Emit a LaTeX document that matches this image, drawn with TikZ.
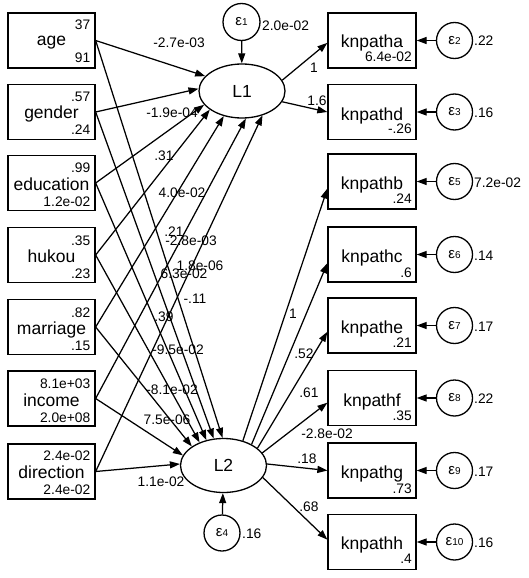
\documentclass[tikz,border=0pt]{standalone}
\usepackage{fontspec}
\setmainfont{Liberation Sans}
\usetikzlibrary{arrows.meta,calc,shapes.geometric}
\newcommand{\epsl}[1]{{\fontsize{15}{15}\selectfont ε}{\fontsize{10}{10}\selectfont #1}}
\begin{document}
\begin{tikzpicture}[x=1pt,y=-1pt,
  box/.style={draw, line width=1.3pt, minimum width=87pt, minimum height=55pt, inner sep=0pt},
  rbox/.style={draw, line width=1.3pt, minimum width=88pt, minimum height=55pt, inner sep=0pt},
  lat/.style={draw, ellipse, line width=1.3pt, minimum width=86pt, minimum height=54pt, inner sep=0pt, font=\fontsize{17.5}{17.5}\selectfont},
  err/.style={draw, circle, line width=1.3pt, minimum size=36pt, inner sep=0pt},
  nm/.style={anchor=base, inner sep=0pt, font=\fontsize{17.5}{17.5}\selectfont},
  num/.style={anchor=base east, inner sep=0pt, font=\fontsize{13.8}{13.8}\selectfont},
  elab/.style={anchor=base west, inner sep=0pt, font=\fontsize{13.8}{13.8}\selectfont},
  coef/.style={anchor=base, inner sep=0pt, font=\fontsize{13.8}{13.8}\selectfont},
  conn/.style={line width=1.25pt, -{Triangle[length=10pt,width=7pt]}}
]
\useasboundingbox[fill=white] (0,0) rectangle (529,578);

% left boxes
\node[box] (age) at (51.5,40.5) {};
\node[nm] (agen) at (51.5,46) {age};
\node[num] (agea) at (90.5,30) {37};
\node[num] (ageb) at (90.5,63) {91};

\node[box] (gen) at (51.5,112) {};
\node[nm] (genn) at (51.5,118) {gender};
\node[num] (gena) at (90.5,101) {.57};
\node[num] (genb) at (90.5,134) {.24};

\node[box] (edu) at (51.5,183) {};
\node[nm] (edun) at (51.5,190) {education};
\node[num] (edua) at (90.5,172) {.99};
\node[num] (edub) at (90.5,206) {1.2e-02};

\node[box] (huk) at (51.5,255) {};
\node[nm] (hukn) at (51.5,262) {hukou};
\node[num] (huka) at (90.5,245) {.35};
\node[num] (hukb) at (90.5,278) {.23};

\node[box] (mar) at (51.5,327) {};
\node[nm] (marn) at (51.5,334) {marriage};
\node[num] (mara) at (90.5,317) {.82};
\node[num] (marb) at (90.5,350) {.15};

\node[box] (inc) at (51.5,398.5) {};
\node[nm] (incn) at (51.5,406) {income};
\node[num] (inca) at (90.5,388) {8.1e+03};
\node[num] (incb) at (90.5,422) {2.0e+08};

\node[box] (dir) at (51.5,471.5) {};
\node[nm] (dirn) at (51.5,478) {direction};
\node[num] (dira) at (90.5,460) {2.4e-02};
\node[num] (dirb) at (90.5,494) {2.4e-02};

% latent variables
\node[lat] (L1) at (242,91) {L1};
\node[lat] (L2) at (223.5,465.5) {L2};
\node[err, minimum size=37pt] (e1) at (241.5,22) {\epsl{1}};
\node[elab] (e1l) at (262,31) {2.0e-02};
\node[err] (e4) at (222,533) {\epsl{4}};
\node[elab] (e4l) at (242,538) {.16};

% right boxes
\node[rbox] (ka) at (372,40.5) {};
\node[nm] (kan) at (372,48) {knpatha};
\node[num] (kab) at (412,62) {6.4e-02};
\node[rbox] (kd) at (372,112) {};
\node[nm] (kdn) at (372,120) {knpathd};
\node[num] (kdb) at (412,133) {-.26};
\node[rbox] (kb) at (372,181.5) {};
\node[nm] (kbn) at (372,189) {knpathb};
\node[num] (kbb) at (412,203) {.24};
\node[rbox] (kc) at (372,254.5) {};
\node[nm] (kcn) at (372,262) {knpathc};
\node[num] (kcb) at (412,277) {.6};
\node[rbox] (ke) at (372,325.5) {};
\node[nm] (ken) at (372,333) {knpathe};
\node[num] (keb) at (412,347) {.21};
\node[rbox] (kf) at (372,398) {};
\node[nm] (kfn) at (372,406) {knpathf};
\node[num] (kfb) at (412,420) {.35};
\node[rbox] (kg) at (372,470.5) {};
\node[nm] (kgn) at (372,478) {knpathg};
\node[num] (kgb) at (412,493) {.73};
\node[rbox] (kh) at (372,542) {};
\node[nm] (khn) at (372,549) {knpathh};
\node[num] (khb) at (412,563) {.4};

% error circles right
\node[err] (e2) at (454.5,40.5) {\epsl{2}};
\node[elab] (e2l) at (474,46) {.22};
\node[err] (e3) at (454.5,112) {\epsl{3}};
\node[elab] (e3l) at (474,117.5) {.16};
\node[err] (e5) at (454.5,181.5) {\epsl{5}};
\node[elab] (e5l) at (474,187) {7.2e-02};
\node[err] (e6) at (454.5,254.5) {\epsl{6}};
\node[elab] (e6l) at (474,260) {.14};
\node[err] (e7) at (454.5,325.5) {\epsl{7}};
\node[elab] (e7l) at (474,331) {.17};
\node[err] (e8) at (454.5,398) {\epsl{8}};
\node[elab] (e8l) at (474,403.5) {.22};
\node[err] (e9) at (454.5,470.5) {\epsl{9}};
\node[elab] (e9l) at (474,476) {.17};
\node[err] (e10) at (454.5,542) {\epsl{10}};
\node[elab] (e10l) at (474,547.5) {.16};

% connectors to L1
\draw[conn] (age.east) -- (L1.158);
\draw[conn] (gen.east) -- (L1.177);
\draw[conn] (edu.east) -- (L1.200);
\draw[conn] (huk.east) -- (L1.210);
\draw[conn] (mar.east) -- (L1.234);
\draw[conn] (inc.east) -- (L1.278);
\draw[conn] (dir.east) -- (L1.310);
% connectors to L2
\draw[conn] (age.east) -- (L2.92);
\draw[conn] (gen.east) -- (L2.110);
\draw[conn] (edu.east) -- (L2.124);
\draw[conn] (huk.east) -- (L2.136);
\draw[conn] (mar.east) -- (L2.149);
\draw[conn] (inc.east) -- (L2.166);
\draw[conn] (dir.east) -- (L2.178);
% latent to indicators
\draw[conn] (L1.15) -- (ka.183);
\draw[conn] (L1.-15) -- (kd.180);
\draw[conn] (L2.52) -- (kb.189);
\draw[conn] (L2.37) -- (kc.191);
\draw[conn] (L2.27) -- (ke.188);
\draw[conn] (L2.18) -- (kf.186);
\draw[conn] (L2.2) -- (kg.180);
\draw[conn] (L2.-17) -- (kh.177);
% errors
\draw[conn] (e1) -- (L1);
\draw[conn] (e4) -- (L2);
\draw[conn] (e2) -- (ka);
\draw[conn] (e3) -- (kd);
\draw[conn] (e5) -- (kb);
\draw[conn] (e6) -- (kc);
\draw[conn] (e7) -- (ke);
\draw[conn] (e8) -- (kf);
\draw[conn] (e9) -- (kg);
\draw[conn] (e10) -- (kh);

% coefficient labels
\node[coef] (c1) at (179,48) {-2.7e-03};
\node[coef] (c2) at (172,117) {-1.9e-04};
\node[coef] (c3) at (164,160) {.31};
\node[coef] (c4) at (182,197) {4.0e-02};
\node[coef] (c5) at (174,236) {.21};
\node[coef] (c6) at (191,245) {-2.8e-03};
\node[coef] (c7) at (200,270) {1.8e-06};
\node[coef] (c8) at (184,278) {6.3e-02};
\node[coef] (c9) at (195,303) {-.11};
\node[coef] (c10) at (164,321) {.39};
\node[coef] (c11) at (178,354) {-9.5e-02};
\node[coef] (c12) at (172,394) {-8.1e-02};
\node[coef] (c13) at (167,424) {7.5e-06};
\node[coef] (c14) at (161,486) {1.1e-02};
\node[coef] (c15) at (314,73) {1};
\node[coef] (c16) at (317,105) {1.6};
\node[coef] (c17) at (293,318) {1};
\node[coef] (c18) at (304,358) {.52};
\node[coef] (c19) at (309,397) {.61};
\node[coef] (c20) at (327,438) {-2.8e-02};
\node[coef] (c21) at (307,463) {.18};
\node[coef] (c22) at (309,511) {.68};
\end{tikzpicture}
\end{document}
